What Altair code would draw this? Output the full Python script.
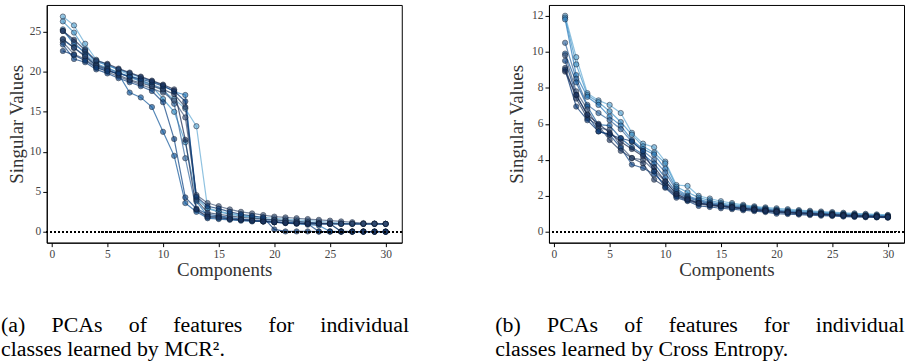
import altair as alt
import pandas as pd

components = list(range(1, 31))
series_names = [f"class {i}" for i in range(10)]
colors = ["#6aaed6", "#4a98c9", "#2f7ebc", "#3d6fa3", "#1c5f9f", "#4a5f80",
          "#174a87", "#2b4166", "#0c3a75", "#1d2f55"]

mcr = [
    [26.9, 25.8, 23.5, 21.5, 20.9, 20.2, 19.6, 19.0, 18.4, 17.6, 16.6, 15.4, 13.2, 3.0, 2.6, 2.3, 2.1, 1.9, 1.8, 1.7, 1.6, 1.5, 1.4, 1.3, 1.2, 1.1, 1.05, 1.0, 1.0, 1.0],
    [26.3, 24.9, 22.8, 21.0, 20.5, 19.9, 19.3, 18.8, 18.2, 16.6, 15.0, 11.2, 4.2, 2.9, 2.5, 2.2, 2.0, 1.8, 1.6, 1.5, 1.4, 1.3, 1.2, 1.1, 1.0, 0.05, 0.04, 0.04, 0.03, 0.03],
    [25.3, 23.4, 22.5, 21.3, 20.8, 20.3, 19.8, 19.3, 18.8, 18.3, 17.5, 17.1, 3.8, 2.0, 1.9, 1.7, 1.5, 1.4, 1.3, 1.2, 1.1, 1.0, 0.9, 0.8, 0.05, 0.04, 0.03, 0.03, 0.03, 0.02],
    [25.1, 23.7, 22.2, 20.9, 20.4, 19.9, 19.4, 18.9, 18.4, 17.9, 16.0, 9.2, 2.7, 1.8, 1.7, 1.6, 1.5, 1.4, 1.3, 1.2, 1.15, 1.1, 1.1, 1.05, 1.0, 1.0, 1.0, 1.0, 1.0, 1.0],
    [24.0, 23.0, 22.0, 20.7, 20.2, 19.7, 17.4, 16.8, 15.6, 12.5, 9.5, 3.6, 2.5, 1.7, 1.6, 1.5, 1.4, 1.3, 1.3, 1.2, 1.15, 1.1, 1.05, 1.0, 1.0, 1.0, 1.0, 1.0, 1.0, 1.0],
    [23.7, 22.2, 21.6, 20.6, 20.0, 19.4, 18.9, 18.4, 17.9, 17.4, 16.4, 14.3, 4.6, 3.6, 3.2, 2.8, 2.5, 2.3, 2.1, 1.9, 1.8, 1.7, 1.6, 1.5, 1.4, 1.3, 1.2, 1.1, 1.05, 1.0],
    [23.4, 21.6, 21.2, 20.3, 19.8, 19.2, 18.7, 18.2, 17.6, 16.2, 11.6, 4.3, 2.9, 2.2, 2.0, 1.8, 1.6, 1.5, 1.4, 1.3, 1.2, 1.1, 1.0, 0.04, 0.04, 0.03, 0.03, 0.03, 0.02, 0.02],
    [24.1, 23.0, 21.9, 20.8, 20.3, 19.6, 19.0, 18.6, 18.2, 17.8, 17.2, 15.6, 4.0, 2.4, 2.2, 2.0, 1.8, 1.7, 1.6, 1.5, 1.4, 1.3, 1.2, 1.1, 1.05, 1.0, 1.0, 1.0, 1.0, 1.0],
    [22.6, 22.1, 21.4, 20.5, 20.1, 19.8, 19.4, 19.1, 18.7, 18.2, 17.6, 16.3, 4.4, 3.2, 2.9, 2.5, 2.2, 2.0, 1.8, 0.3, 0.05, 0.05, 0.05, 0.04, 0.04, 0.03, 0.03, 0.03, 0.02, 0.02],
    [25.1, 24.0, 22.7, 21.4, 21.0, 20.4, 19.9, 19.4, 18.9, 18.4, 17.8, 11.5, 2.8, 1.9, 1.8, 1.6, 1.5, 1.4, 1.3, 1.2, 1.1, 1.05, 1.0, 1.0, 1.0, 0.05, 0.04, 0.03, 0.03, 0.03],
]

ce = [
    [12.0, 9.7, 7.7, 7.3, 7.05, 6.6, 5.5, 4.9, 4.7, 3.9, 2.6, 2.55, 2.0, 1.85, 1.7, 1.6, 1.5, 1.42, 1.36, 1.31, 1.26, 1.21, 1.17, 1.13, 1.1, 1.06, 1.03, 1.0, 0.97, 0.94],
    [11.9, 9.3, 7.6, 7.2, 6.7, 6.1, 5.4, 4.75, 4.4, 3.8, 2.5, 2.2, 1.9, 1.75, 1.6, 1.52, 1.44, 1.37, 1.31, 1.25, 1.2, 1.16, 1.12, 1.08, 1.05, 1.02, 0.99, 0.96, 0.93, 0.91],
    [11.8, 8.7, 7.5, 7.05, 6.4, 5.9, 5.1, 4.6, 4.3, 3.5, 2.4, 2.0, 1.8, 1.65, 1.53, 1.46, 1.39, 1.33, 1.27, 1.2, 1.15, 1.11, 1.07, 1.04, 1.01, 0.98, 0.95, 0.92, 0.9, 0.88],
    [10.5, 8.5, 7.05, 6.6, 6.2, 5.7, 5.0, 4.5, 4.0, 3.3, 2.3, 1.95, 1.75, 1.6, 1.5, 1.42, 1.35, 1.3, 1.24, 1.18, 1.13, 1.09, 1.05, 1.02, 0.99, 0.96, 0.93, 0.9, 0.88, 0.86],
    [9.9, 8.3, 6.96, 5.95, 5.9, 5.2, 4.7, 4.3, 3.8, 3.0, 2.2, 1.9, 1.7, 1.55, 1.46, 1.38, 1.32, 1.26, 1.21, 1.15, 1.1, 1.07, 1.03, 1.0, 0.97, 0.94, 0.92, 0.89, 0.87, 0.85],
    [9.8, 7.8, 6.8, 5.76, 5.67, 4.75, 4.1, 4.0, 3.4, 2.8, 2.1, 1.85, 1.62, 1.52, 1.44, 1.36, 1.3, 1.24, 1.18, 1.12, 1.08, 1.04, 1.01, 0.98, 0.95, 0.92, 0.9, 0.87, 0.85, 0.83],
    [9.5, 7.6, 6.5, 5.58, 5.4, 4.66, 3.74, 3.55, 3.2, 2.64, 2.0, 1.8, 1.6, 1.5, 1.42, 1.34, 1.28, 1.22, 1.16, 1.1, 1.06, 1.02, 0.99, 0.96, 0.93, 0.9, 0.88, 0.85, 0.83, 0.81],
    [9.1, 7.4, 6.3, 5.9, 5.1, 4.5, 4.1, 3.8, 2.9, 2.5, 1.99, 1.75, 1.55, 1.46, 1.4, 1.33, 1.27, 1.21, 1.15, 1.09, 1.05, 1.01, 0.98, 0.95, 0.92, 0.89, 0.86, 0.84, 0.82, 0.8],
    [9.0, 6.96, 6.2, 5.58, 5.4, 5.2, 5.03, 4.47, 3.37, 2.45, 1.9, 1.71, 1.44, 1.38, 1.31, 1.26, 1.2, 1.15, 1.1, 1.01, 0.99, 0.96, 0.93, 0.9, 0.88, 0.85, 0.83, 0.81, 0.8, 0.79],
    [8.9, 7.6, 6.5, 6.0, 5.5, 5.0, 4.6, 4.2, 3.6, 2.8, 2.1, 1.8, 1.6, 1.5, 1.44, 1.37, 1.3, 1.24, 1.18, 1.13, 1.09, 1.05, 1.01, 0.98, 0.95, 0.92, 0.89, 0.87, 0.85, 0.83],
]

GAP = "\u2003\u2009"
caption_a = [GAP.join(["(a)", "PCAs", "of", "features", "for", "individual"]), "classes learned by MCR\u00b2."]
caption_b = [GAP.join(["(b)", "PCAs", "of", "features", "for", "individual"]), "classes learned by Cross Entropy."]

FONT = "Liberation Serif"


def to_df(values):
    rows = []
    for name, vals in zip(series_names, values):
        for c, v in zip(components, vals):
            rows.append({"series": name, "comp": c, "value": v})
    return pd.DataFrame(rows)


def panel(values, ydomain, yticks, caption, title_x, cap_dx):
    df = to_df(values)
    base = alt.Chart(df)
    xscale = alt.Scale(domain=[-0.45, 31.45], nice=False, zero=False)
    yscale = alt.Scale(domain=ydomain, nice=False, zero=False)
    xaxis = alt.Axis(values=[0, 5, 10, 15, 20, 25, 30], title="Components",
                     titleY=27, titleBaseline="middle")
    yaxis = alt.Axis(values=yticks, title="Singular Values",
                     titleX=title_x, titleY=119.5, titleBaseline="middle",
                     titleAlign="center")
    x = alt.X("comp:Q", scale=xscale, axis=xaxis)
    y = alt.Y("value:Q", scale=yscale, axis=yaxis)
    color = alt.Color("series:N", scale=alt.Scale(domain=series_names, range=colors), legend=None)
    zero = base.mark_rule(color="black", strokeDash=[1.5, 2.5], strokeWidth=1.2).encode(
        y=alt.YDatum(0, scale=yscale, axis=yaxis))
    lines = base.mark_line(strokeWidth=1.2, opacity=0.75).encode(x=x, y=y, color=color, detail="series:N")
    pts = base.mark_circle(size=28, opacity=0.7, stroke="#0b1a33", strokeWidth=0.8).encode(
        x=x, y=y, color=color)
    return alt.layer(lines, pts, zero).properties(
        width=357, height=239,
        title=alt.Title(text=caption, orient="bottom", anchor="start", frame="group",
                        dx=cap_dx, offset=36, font=FONT, fontSize=22, fontWeight="normal",
                        color="black", lineHeight=24, baseline="top"),
    )


left = panel(mcr, [-1.35, 28.35], [0, 5, 10, 15, 20, 25], caption_a, -30, -46)
right = panel(ce, [-0.6, 12.6], [0, 2, 4, 6, 8, 10, 12], caption_b, -33, -54)

chart = alt.hconcat(left, right, spacing=148, bounds="flush").properties(
    padding={"left": 0, "top": 3, "right": 0, "bottom": 0},
    background="white",
).configure_view(stroke="black", strokeWidth=1).configure_axis(
    grid=False, domainColor="black", domainWidth=1, tickColor="black", tickSize=4,
    labelFont=FONT, labelFontSize=11.5, labelColor="#444444", labelPadding=2,
    labelOverlap=False,
    titleFont=FONT, titleFontSize=19, titleFontWeight="normal", titleColor="#333333",
)

chart.save("out.html", embed_options={"renderer": "svg", "actions": False})
